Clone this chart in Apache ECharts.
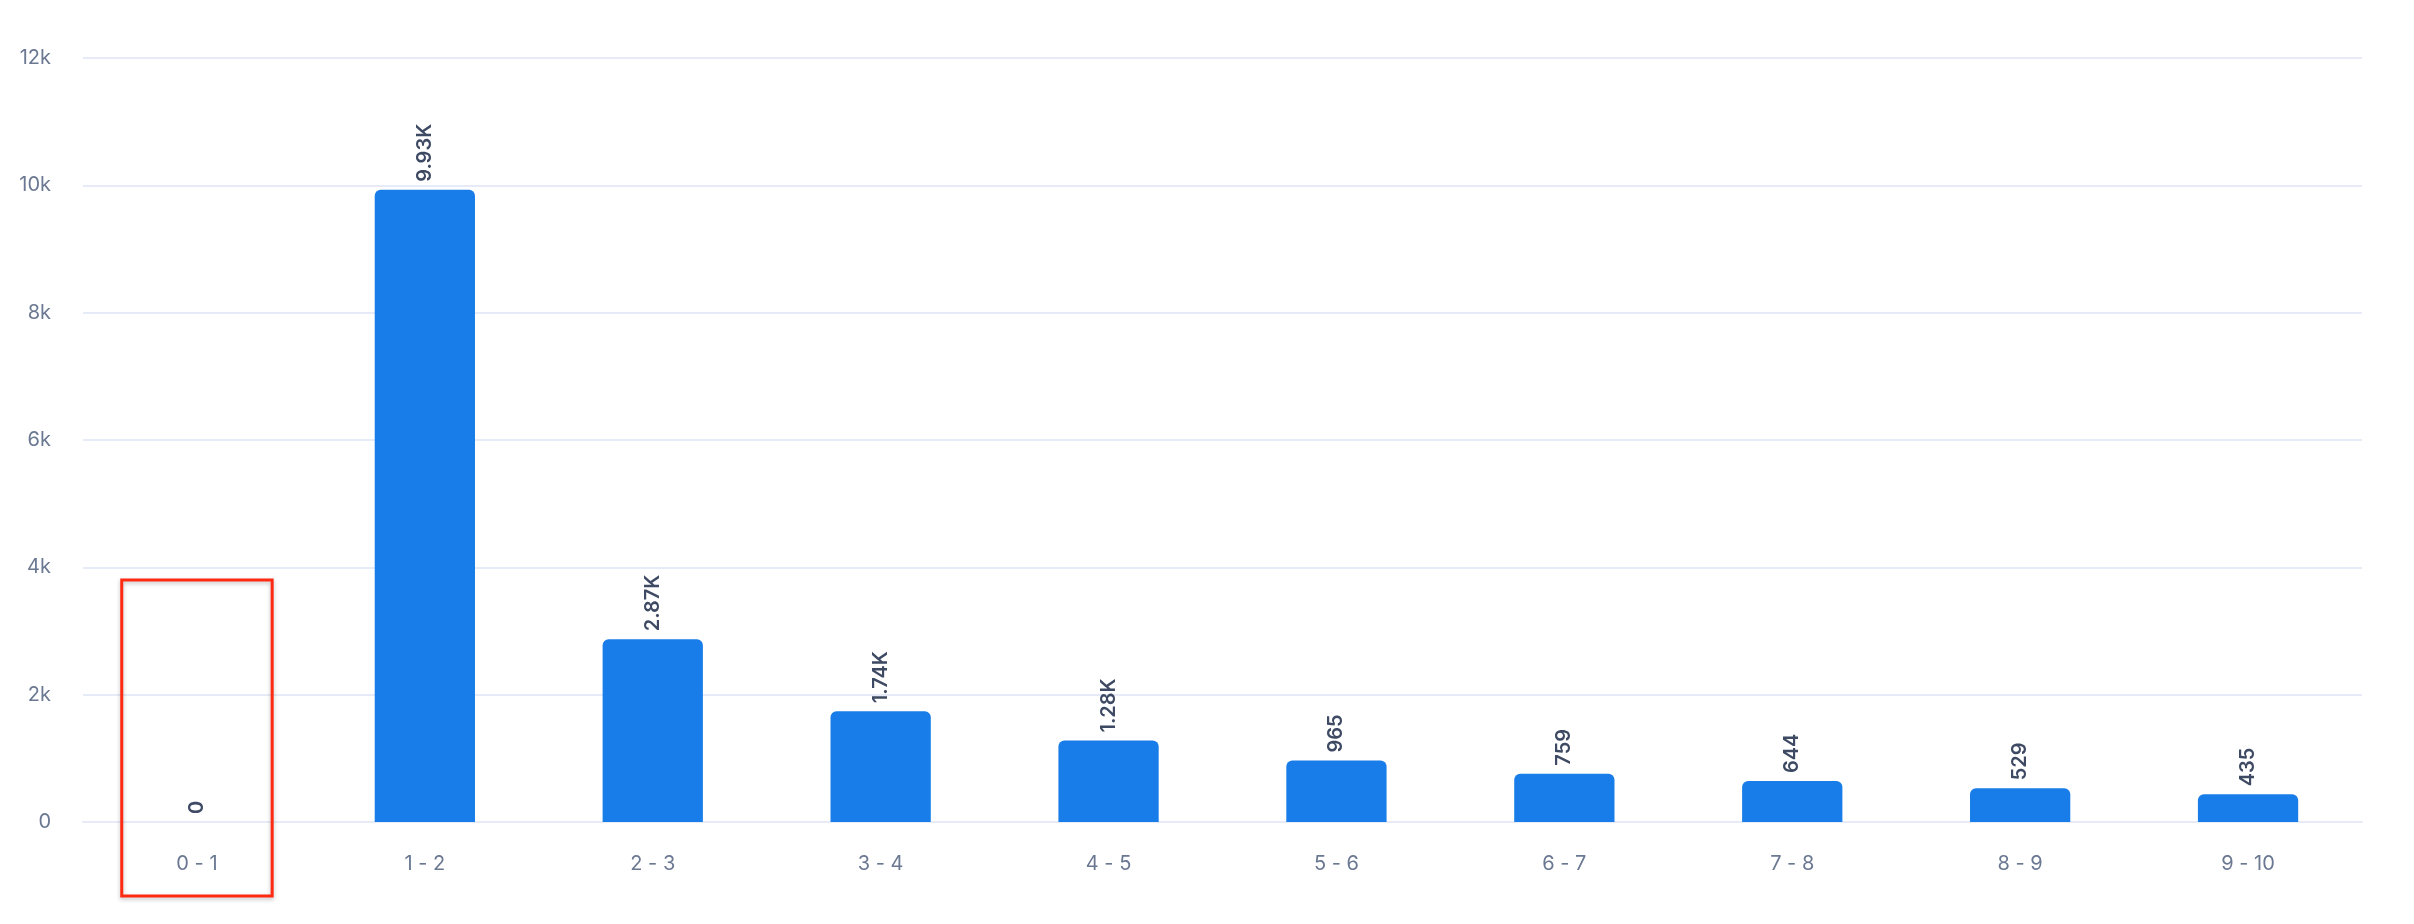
<!DOCTYPE html>
<html>
<head>
<meta charset="utf-8">
<script src="https://cdn.jsdelivr.net/npm/echarts@6/dist/echarts.min.js"></script>
<style>
html, body { margin: 0; padding: 0; background: #fff; }
#main { width: 2414px; height: 924px; }
</style>
</head>
<body>
<div id="main"></div>
<script>
var categories = ['0 - 1', '1 - 2', '2 - 3', '3 - 4', '4 - 5', '5 - 6', '6 - 7', '7 - 8', '8 - 9', '9 - 10'];
var counts = [0, 9930, 2870, 1740, 1280, 965, 759, 644, 529, 435];
var yTicks = [0, 2000, 4000, 6000, 8000, 10000, 12000];

var labelFont = 'Inter, Lato, "Noto Sans", sans-serif';

function shortNum(v) {
	if (v >= 1000) return (v / 1000).toFixed(2) + 'K';
	return String(v);
}

var myChart = echarts.init(document.getElementById('main'));

option = {
	animation: false,
	grid: {
		left: 83,
		right: 52,
		top: 58,
		bottom: 102,
		containLabel: false
	},
	xAxis: {
		type: 'category',
		data: categories,
		axisLine: {
			show: true,
			lineStyle: { color: '#e6ebf7', width: 2 }
		},
		axisTick: { show: false },
		axisLabel: {
			margin: 32,
			color: '#6b7892',
			fontSize: 20,
			fontFamily: labelFont
		}
	},
	yAxis: {
		type: 'value',
		min: yTicks[0],
		max: yTicks[yTicks.length - 1],
		interval: yTicks[1] - yTicks[0],
		axisLine: { show: false },
		axisTick: { show: false },
		splitLine: {
			lineStyle: { color: '#e6ebf7', width: 2 }
		},
		axisLabel: {
			margin: 32,
			color: '#6b7892',
			fontSize: 20,
			fontFamily: labelFont,
			formatter: function (v) {
				return v === 0 ? '0' : (v / 1000) + 'k';
			}
		}
	},
	series: [{
		type: 'bar',
		data: counts,
		barWidth: '44%',
		itemStyle: {
			color: '#187de9',
			borderRadius: [6, 6, 0, 0]
		},
		label: {
			show: true,
			position: 'top',
			rotate: 90,
			align: 'left',
			verticalAlign: 'middle',
			distance: 8,
			color: '#3e4a63',
			fontSize: 20,
			fontWeight: 600,
			fontFamily: labelFont,
			formatter: function (p) {
				return shortNum(p.value);
			}
		}
	}]
};

myChart.setOption(option);

// red highlight box around the first category
var catW = myChart.convertToPixel({ xAxisIndex: 0 }, categories[1]) - myChart.convertToPixel({ xAxisIndex: 0 }, categories[0]);
var cx = myChart.convertToPixel({ xAxisIndex: 0 }, categories[0]);
var topY = myChart.convertToPixel({ yAxisIndex: 0 }, 3800);
var baseY = myChart.convertToPixel({ yAxisIndex: 0 }, 0);
myChart.setOption({
	graphic: [{
		type: 'rect',
		shape: {
			x: cx - catW * 0.33,
			y: topY,
			width: catW * 0.66,
			height: baseY - topY + 74
		},
		style: {
			fill: 'none',
			stroke: '#ff2a12',
			lineWidth: 3,
			shadowBlur: 4,
			shadowColor: 'rgba(0,0,0,0.25)',
			shadowOffsetY: 2
		},
		z: 100
	}]
});
window.onresize = myChart.resize;
</script>
</body>
</html>
